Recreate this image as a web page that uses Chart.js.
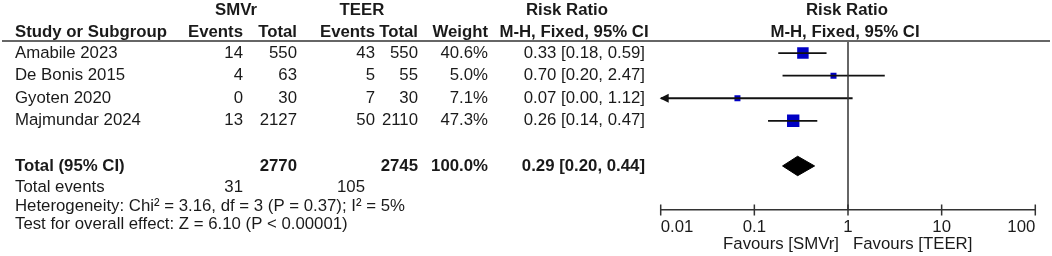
<!DOCTYPE html>
<html>
<head>
<meta charset="utf-8">
<script src="https://cdn.jsdelivr.net/npm/chart.js@4.4.1/dist/chart.umd.min.js"></script>
<style>
  html, body { margin: 0; padding: 0; background: #fff; }
</style>
</head>
<body>
<canvas id="forest" width="1052" height="256"></canvas>
<script>
// study rows
const studies = ["Amabile 2023", "De Bonis 2015", "Gyoten 2020", "Majmundar 2024"];
const smvrEvents = [14, 4, 0, 13];
const smvrTotal = [550, 63, 30, 2127];
const teerEvents = [43, 5, 7, 50];
const teerTotal = [550, 55, 30, 2110];
const weights = [40.6, 5.0, 7.1, 47.3];
const riskRatio = [0.33, 0.70, 0.066, 0.26];
const ciLow = [0.18, 0.20, 0.004, 0.14];
const ciHigh = [0.59, 2.47, 1.12, 0.47];

// pooled result
const totalSmvr = 2770;
const totalTeer = 2745;
const totalEventsSmvr = 31;
const totalEventsTeer = 105;
const totalWeight = 100.0;
const totalRR = 0.29;
const totalLow = 0.20;
const totalHigh = 0.44;
const heterogeneityText = "Heterogeneity: Chi\u00b2 = 3.16, df = 3 (P = 0.37); I\u00b2 = 5%";
const overallText = "Test for overall effect: Z = 6.10 (P < 0.00001)";

// axis
const tickValues = [0.01, 0.1, 1, 10, 100];
const tickLabels = ["0.01", "0.1", "1", "10", "100"];
const favoursLeft = "Favours [SMVr]";
const favoursRight = "Favours [TEER]";

const FONT = "'Liberation Sans', Arial, sans-serif";
const FS = 16.8;
const INK = "#1a1a1a";
const BLUE = "#0000c4";
const TOTAL_ROW = 5;
const Y_MIN = -0.49, Y_MAX = 6.95;

const fmt2 = (v) => v.toFixed(2);
const ciText = (r, lo, hi) => fmt2(r) + " [" + fmt2(lo) + ", " + fmt2(hi) + "]";

// right edges of the table columns
const cols = { study: 15, smvrEv: 243, smvrTot: 297, teerEv: 375, teerTot: 418, weight: 488, rr: 645 };

const tablePlugin = {
  id: "forestTable",
  afterDraw(chart) {
    const ctx = chart.ctx;
    const ys = chart.scales.y;
    const xs = chart.scales.x;
    const text = (s, px, py, align, bold) => {
      ctx.font = (bold ? "bold " : "") + FS + "px " + FONT;
      ctx.textAlign = align;
      ctx.fillText(String(s), px, py);
    };
    ctx.save();
    ctx.fillStyle = INK;
    ctx.textBaseline = "middle";

    // headers
    text("SMVr", 236, 10, "center", true);
    text("TEER", 362, 10, "center", true);
    text("Risk Ratio", 567, 10, "center", true);
    text("Risk Ratio", 847, 10, "center", true);
    text("Study or Subgroup", cols.study, 32, "left", true);
    text("Events", cols.smvrEv, 32, "right", true);
    text("Total", cols.smvrTot, 32, "right", true);
    text("Events", cols.teerEv, 32, "right", true);
    text("Total", cols.teerTot, 32, "right", true);
    text("Weight", cols.weight, 32, "right", true);
    text("M-H, Fixed, 95% CI", 574, 32, "center", true);
    text("M-H, Fixed, 95% CI", 845, 32, "center", true);

    ctx.strokeStyle = "#333";
    ctx.lineWidth = 1.5;
    ctx.beginPath();
    ctx.moveTo(2, 41);
    ctx.lineTo(1050, 41);
    ctx.stroke();

    // study rows
    studies.forEach((name, i) => {
      const py = ys.getPixelForValue(i);
      text(name, cols.study, py, "left", false);
      text(smvrEvents[i], cols.smvrEv, py, "right", false);
      text(smvrTotal[i], cols.smvrTot, py, "right", false);
      text(teerEvents[i], cols.teerEv, py, "right", false);
      text(teerTotal[i], cols.teerTot, py, "right", false);
      text(weights[i].toFixed(1) + "%", cols.weight, py, "right", false);
      text(ciText(riskRatio[i], ciLow[i], ciHigh[i]), cols.rr, py, "right", false);
    });

    // total row
    const ty = ys.getPixelForValue(TOTAL_ROW);
    text("Total (95% CI)", cols.study, ty, "left", true);
    text(totalSmvr, cols.smvrTot, ty, "right", true);
    text(totalTeer, cols.teerTot, ty, "right", true);
    text(totalWeight.toFixed(1) + "%", cols.weight, ty, "right", true);
    text(ciText(totalRR, totalLow, totalHigh), cols.rr, ty, "right", true);

    text("Total events", cols.study, 187, "left", false);
    text(totalEventsSmvr, cols.smvrEv, 187, "right", false);
    text(totalEventsTeer, 365, 187, "right", false);
    text(heterogeneityText, cols.study, 206, "left", false);
    text(overallText, cols.study, 224, "left", false);

    // axis tick marks (cross the axis line)
    const axisY = xs.top;
    ctx.beginPath();
    tickValues.forEach((v) => {
      const px = xs.getPixelForValue(v);
      ctx.moveTo(px, axisY - 5.5);
      ctx.lineTo(px, axisY + 5.5);
    });
    ctx.stroke();

    // arrow for CIs running past the axis minimum
    ctx.fillStyle = "#111";
    ciLow.forEach((lo, i) => {
      if (lo >= xs.min) return;
      const px = xs.getPixelForValue(xs.min);
      const py = ys.getPixelForValue(i);
      ctx.beginPath();
      ctx.moveTo(px - 1, py);
      ctx.lineTo(px + 8, py - 4.5);
      ctx.lineTo(px + 8, py + 4.5);
      ctx.closePath();
      ctx.fill();
    });

    // favours labels
    ctx.fillStyle = INK;
    const nullX = xs.getPixelForValue(1);
    text(favoursLeft, nullX - 9, 244, "right", false);
    text(favoursRight, nullX + 5, 244, "left", false);
    ctx.restore();
  }
};

const ciDatasets = studies.map((name, i) => ({
  label: name,
  data: [{ x: Math.max(ciLow[i], tickValues[0]), y: i }, { x: ciHigh[i], y: i }],
  showLine: true,
  borderColor: "#111",
  borderWidth: 1.8,
  pointRadius: 0,
}));

const chart = new Chart(document.getElementById("forest"), {
  type: "scatter",
  data: {
    datasets: [
      {
        label: "null",
        data: [{ x: 1, y: Y_MIN }, { x: 1, y: Y_MAX }],
        showLine: true,
        borderColor: "#333",
        borderWidth: 1.5,
        pointRadius: 0,
      },
      ...ciDatasets,
      {
        label: "estimates",
        data: riskRatio.map((r, i) => ({ x: r, y: i })),
        pointStyle: "rect",
        pointRadius: weights.map((w) => Math.max(6, 1.8 * Math.sqrt(w)) / Math.SQRT2),
        backgroundColor: BLUE,
        borderWidth: 0,
      },
      {
        label: "total",
        data: [
          { x: totalLow, y: TOTAL_ROW },
          { x: totalRR, y: TOTAL_ROW - 0.43 },
          { x: totalHigh, y: TOTAL_ROW },
          { x: totalRR, y: TOTAL_ROW + 0.43 },
          { x: totalLow, y: TOTAL_ROW },
        ],
        showLine: true,
        fill: "shape",
        borderColor: "#000",
        backgroundColor: "#000",
        borderWidth: 1,
        pointRadius: 0,
      },
    ],
  },
  options: {
    responsive: false,
    animation: false,
    layout: { padding: { left: 660.7, right: 16.7, top: 42, bottom: 0 } },
    plugins: { legend: { display: false }, tooltip: { enabled: false } },
    scales: {
      x: {
        type: "logarithmic",
        min: tickValues[0],
        max: tickValues[tickValues.length - 1],
        grid: { display: false, drawTicks: false },
        border: { display: true, color: "#333", width: 1.5 },
        afterBuildTicks: (scale) => { scale.ticks = tickValues.map((v) => ({ value: v })); },
        afterFit: (scale) => { scale.height = 46; },
        ticks: {
          align: "inner",
          padding: 7,
          color: INK,
          font: { family: FONT, size: FS },
          callback: (v, idx) => tickLabels[idx],
        },
      },
      y: {
        type: "linear",
        reverse: true,
        min: Y_MIN,
        max: Y_MAX,
        display: false,
      },
    },
  },
  plugins: [tablePlugin],
});
</script>
</body>
</html>
